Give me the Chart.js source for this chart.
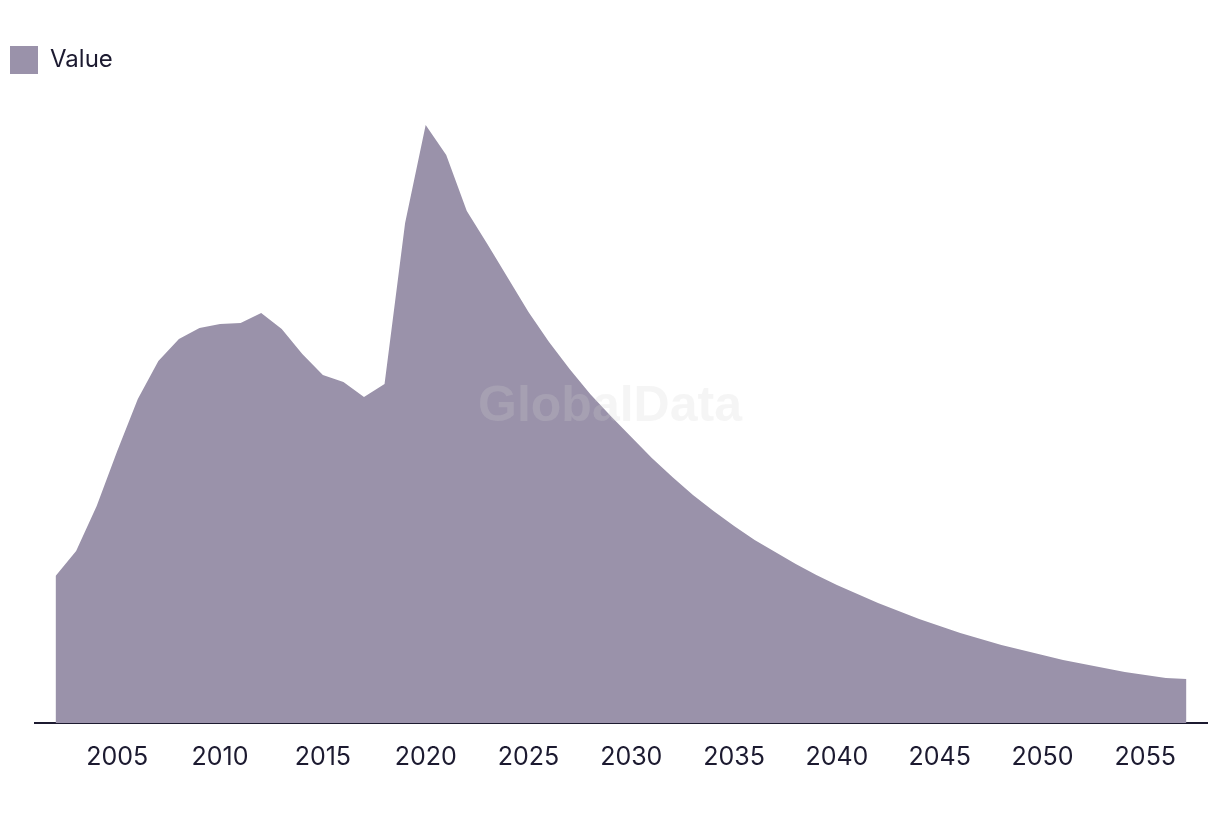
<!DOCTYPE html>
<html>
<head>
<meta charset="utf-8">
<title>Value</title>
<script src="https://cdn.jsdelivr.net/npm/chart.js@4/dist/chart.umd.min.js"></script>
<style>
    html, body { margin: 0; padding: 0; background: #ffffff; }
    #chart { display: block; }
</style>
</head>
<body>
<canvas id="chart" width="1220" height="814"></canvas>
<script>
// Data (arbitrary units, no y axis shown)
const years = [
    2002, 2003, 2004, 2005, 2006, 2007, 2008, 2009, 2010, 2011,
    2012, 2013, 2014, 2015, 2016, 2017, 2018, 2019, 2020, 2021,
    2022, 2023, 2024, 2025, 2026, 2027, 2028, 2029, 2030, 2031,
    2032, 2033, 2034, 2035, 2036, 2037, 2038, 2039, 2040, 2041,
    2042, 2043, 2044, 2045, 2046, 2047, 2048, 2049, 2050, 2051,
    2052, 2053, 2054, 2055, 2056, 2057
];
const values = [
    147, 172, 217, 272, 324, 362, 384, 395, 399, 400,
    410, 394, 369, 348, 341, 326, 339, 500, 598, 568,
    512, 479, 445, 411, 381, 354, 329, 307, 286, 265,
    246, 228, 212, 197, 183, 171, 159, 148, 138, 129,
    120, 112, 104, 97, 90, 84, 78, 73, 68, 63,
    59, 55, 51, 48, 45, 44
];
const tickYears = [2005, 2010, 2015, 2020, 2025, 2030, 2035, 2040, 2045, 2050, 2055];
const seriesName = 'Value';

const FILL = '#9a92aa';
const INK = '#1c1a30';

// Watermark drawn over the filled area
const watermark = {
    id: 'watermark',
    afterDatasetsDraw(chart) {
        const ctx = chart.ctx;
        ctx.save();
        ctx.font = 'bold 50px "Liberation Sans", Arial, sans-serif';
        ctx.fillStyle = 'rgba(210, 210, 210, 0.22)';
        ctx.textAlign = 'center';
        ctx.textBaseline = 'middle';
        ctx.fillText('GlobalData', chart.width / 2, 407);
        ctx.restore();
    }
};

new Chart(document.getElementById('chart'), {
    type: 'line',
    data: {
        datasets: [{
            label: seriesName,
            data: years.map((y, i) => ({ x: y, y: values[i] })),
            backgroundColor: FILL,
            borderColor: FILL,
            borderWidth: 0,
            pointRadius: 0,
            fill: 'origin',
            tension: 0
        }]
    },
    options: {
        responsive: false,
        animation: false,
        layout: { padding: { top: 36, left: 0, right: 13, bottom: 31 } },
        plugins: {
            legend: {
                position: 'top',
                align: 'start',
                labels: {
                    boxWidth: 28,
                    boxHeight: 28,
                    padding: 10,
                    color: INK,
                    font: { family: 'Inter', size: 24 }
                }
            },
            tooltip: { enabled: false }
        },
        scales: {
            x: {
                type: 'linear',
                min: 2001,
                max: 2058,
                afterBuildTicks: scale => {
                    scale.ticks = tickYears.map(v => ({ value: v }));
                },
                grid: { display: false },
                border: { display: true, color: INK, width: 2 },
                ticks: {
                    color: INK,
                    padding: 11,
                    maxRotation: 0,
                    font: { family: 'Inter', size: 25 },
                    callback: v => String(v)
                }
            },
            y: {
                min: 0,
                max: 639,
                grid: { display: false },
                border: { display: false },
                ticks: { display: false },
                afterFit: scale => { scale.width = 35; }
            }
        }
    },
    plugins: [watermark]
});
</script>
</body>
</html>
